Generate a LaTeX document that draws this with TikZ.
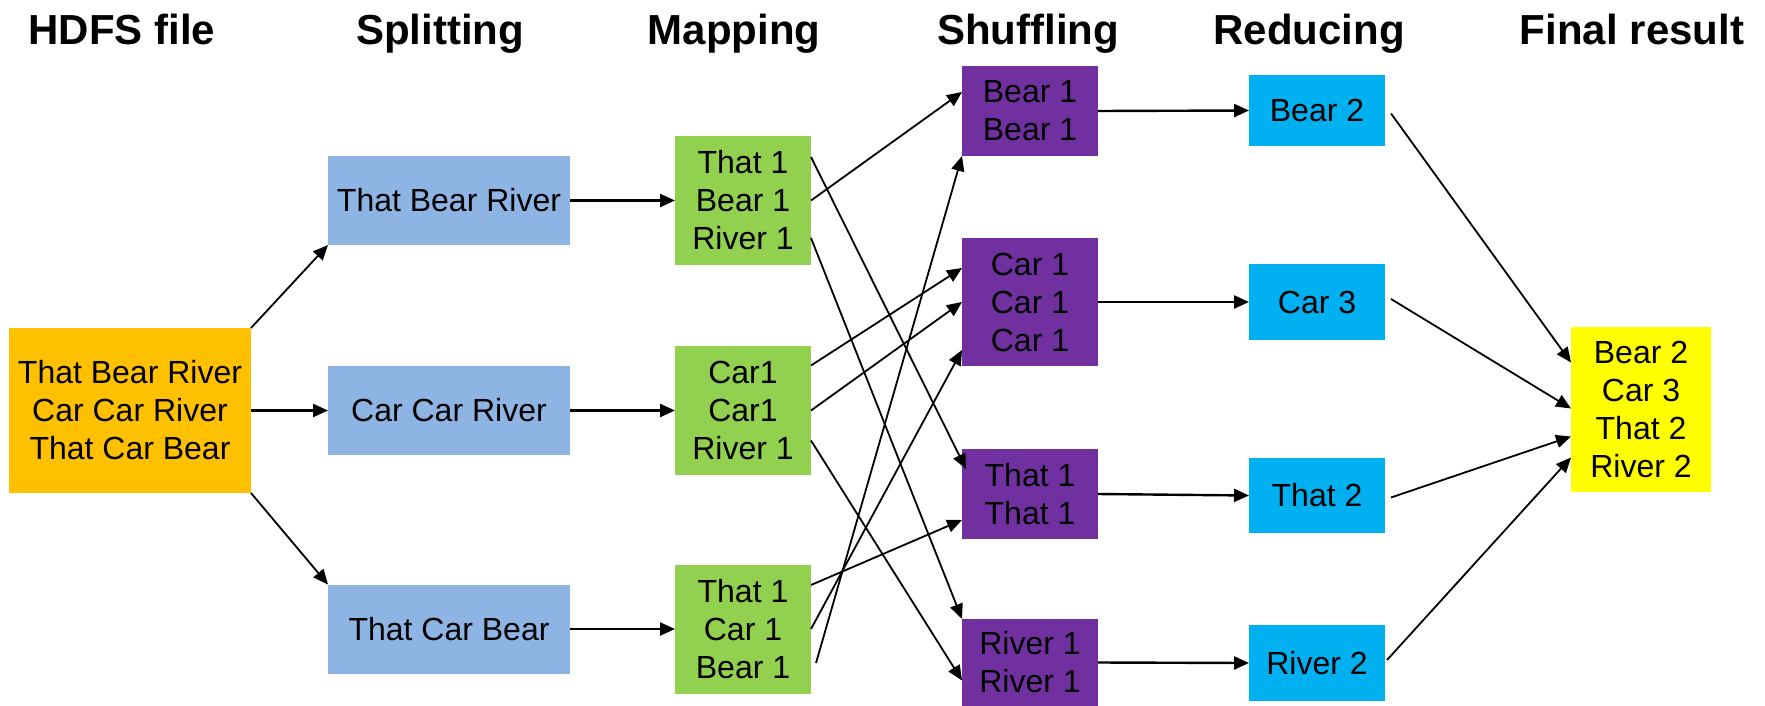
\documentclass[tikz,border=0pt]{standalone}
\usepackage{fontspec}
\setmainfont{Liberation Sans}
\usetikzlibrary{arrows.meta,calc}
\definecolor{cOrange}{HTML}{FFC000}
\definecolor{cBlue}{HTML}{8EB4E3}
\definecolor{cGreen}{HTML}{92D050}
\definecolor{cPurple}{HTML}{7030A0}
\definecolor{cCyan}{HTML}{00B0F0}
\definecolor{cYellow}{HTML}{FFFF00}
\begin{document}
\begin{tikzpicture}[x=0.5pt,y=-0.5pt,
  box/.style={inner sep=0pt, outer sep=0pt, align=center, font=\fontsize{16}{19}\selectfont, text=black},
  hdfsbox/.style={box, fill=cOrange, minimum width=121pt, minimum height=82.5pt},
  splitbox/.style={box, fill=cBlue, minimum width=121pt, minimum height=44.5pt},
  mapbox/.style={box, fill=cGreen, minimum width=68pt, minimum height=64.5pt},
  shufbox/.style={box, fill=cPurple, minimum width=68pt},
  redbox/.style={box, fill=cCyan, minimum width=68pt},
  finalbox/.style={box, fill=cYellow, minimum width=70pt, minimum height=82.5pt},
  hdr/.style={anchor=base, font=\fontsize{21}{25}\selectfont\bfseries},
  arr/.style={-{Triangle[length=7.5pt,width=6.5pt]}, line width=0.9pt},
  harr/.style={arr, line width=1.2pt}]
\useasboundingbox (0,0) rectangle (1765,706);

% headers
\node[hdr] (t1) at (122,45) {HDFS file};
\node[hdr] (t2) at (440,45) {Splitting};
\node[hdr] (t3) at (734,45) {Mapping};
\node[hdr] (t4) at (1028,45) {Shuffling};
\node[hdr] (t5) at (1309,45) {Reducing};
\node[hdr] (t6) at (1632,45) {Final result};

% boxes
\node[hdfsbox] (hd) at (130,410.5) {That Bear River\\Car Car River\\That Car Bear};

\node[splitbox] (b1) at (449,200.5) {That Bear River};
\node[splitbox] (b2) at (449,410.5) {Car Car River};
\node[splitbox] (b3) at (449,629) {That Car Bear};

\node[mapbox] (g1) at (743,200.5) {That 1\\Bear 1\\River 1};
\node[mapbox] (g2) at (743,410.5) {Car1\\Car1\\River 1};
\node[mapbox] (g3) at (743,629) {That 1\\Car 1\\Bear 1};

\node[shufbox, minimum height=45pt] (p1) at (1030,111) {Bear 1\\Bear 1};
\node[shufbox, minimum height=64pt] (p2) at (1030,302) {Car 1\\Car 1\\Car 1};
\node[shufbox, minimum height=45pt] (p3) at (1030,494) {That 1\\That 1};
\node[shufbox, minimum height=43.5pt] (p4) at (1030,662.5) {River 1\\River 1};

\node[redbox, minimum height=35.5pt] (c1) at (1317,110.5) {Bear 2};
\node[redbox, minimum height=38pt] (c2) at (1317,302) {Car 3};
\node[redbox, minimum height=37.5pt] (c3) at (1317,495.5) {That 2};
\node[redbox, minimum height=38pt] (c4) at (1317,663) {River 2};

\node[finalbox] (fr) at (1641,409.5) {Bear 2\\Car 3\\That 2\\River 2};

% HDFS -> splitting
\draw[arr] (hd.north east) -- (b1.south west);
\draw[harr] (hd) -- (b2);
\draw[arr] (hd.south east) -- (b3.north west);

% splitting -> mapping
\draw[harr] (b1) -- (g1);
\draw[harr] (b2) -- (g2);
\draw[harr] (b3) -- (g3);

% mapping -> shuffling
\draw[arr] ($(g1.east)+(0,-43.5)$) -- ($(p3.west)+(4,-25)$);
\draw[arr] (g1.east) -- ($(p1.west)+(0,-19)$);
\draw[arr] ($(g1.east)+(0,37.5)$) -- (p4.north west);
\draw[arr] ($(g2.east)+(0,-45)$) -- ($(p2.west)+(0,-34)$);
\draw[arr] (g2.east) -- (p2.west);
\draw[arr] ($(g2.east)+(0,30)$) -- ($(p4.west)+(0,18)$);
\draw[arr] ($(g3.east)+(0,-44)$) -- ($(p3.west)+(0,26)$);
\draw[arr] (g3.east) -- ($(p2.west)+(0,48)$);
\draw[arr] ($(g3.east)+(5,34)$) -- (p1.south west);

% shuffling -> reducing
\draw[harr] (p1.east) -- (c1.west);
\draw[harr] (p2) -- (c2);
\draw[harr] (p3.east) -- (c3.west);
\draw[harr] (p4.east) -- (c4.west);

% reducing -> final
\draw[arr] ($(c1.east)+(6,3)$) -- ($(fr.west)+(0,-47)$);
\draw[arr] ($(c2.east)+(6,-3)$) -- ($(fr.west)+(0,-1)$);
\draw[arr] ($(c3.east)+(6,2)$) -- ($(fr.west)+(0,27)$);
\draw[arr] ($(c4.east)+(2,-3)$) -- ($(fr.west)+(0,48)$);
\end{tikzpicture}
\end{document}
